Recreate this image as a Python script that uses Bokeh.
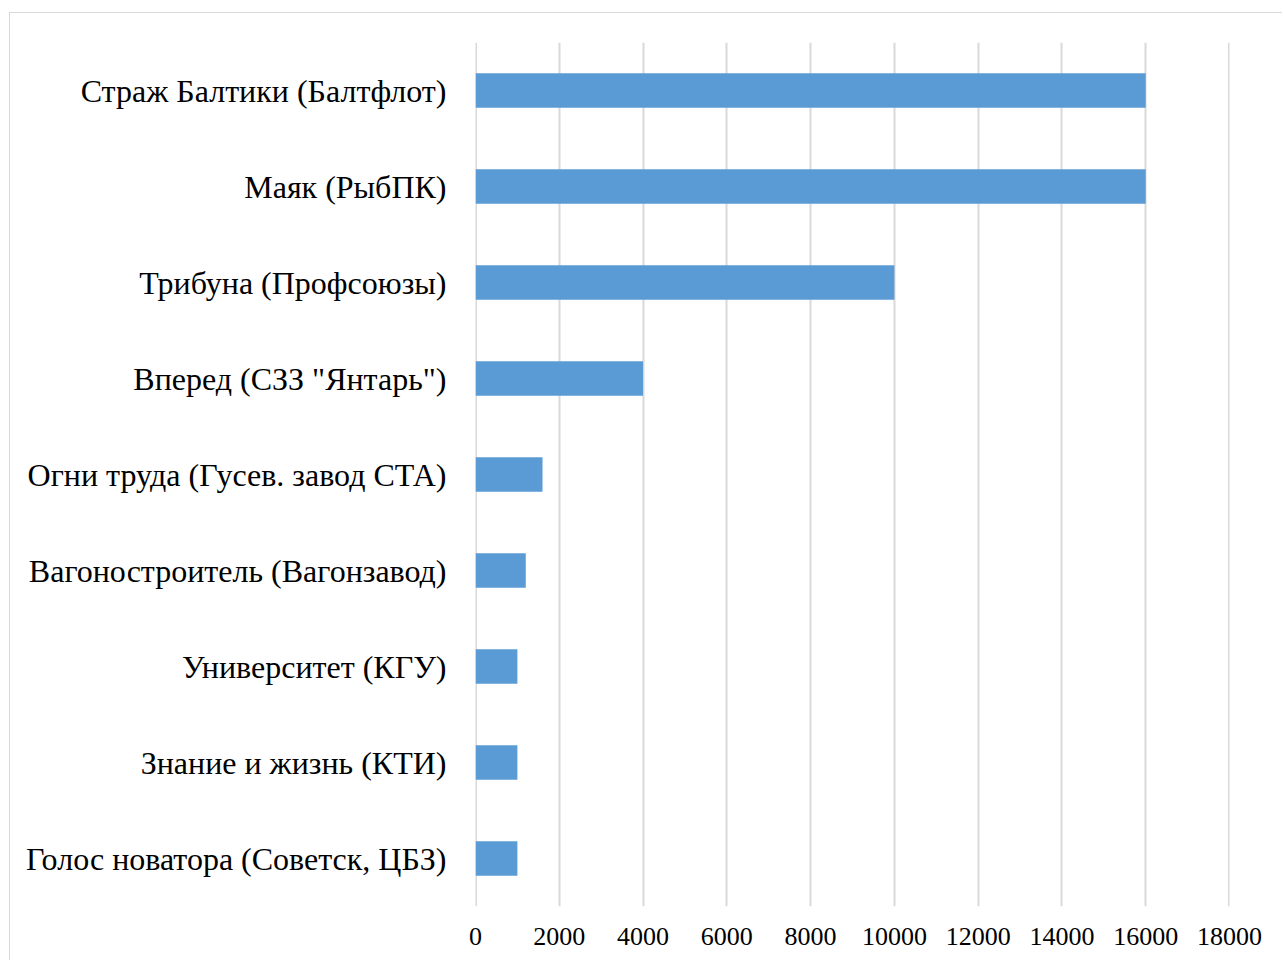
from bokeh.plotting import figure
from bokeh.models import FixedTicker, Span
from bokeh.embed import file_html
from bokeh.resources import INLINE

categories = [
    "Голос новатора (Советск, ЦБЗ)",
    "Знание и жизнь (КТИ)",
    "Университет (КГУ)",
    "Вагоностроитель (Вагонзавод)",
    "Огни труда (Гусев. завод СТА)",
    "Вперед (СЗЗ \"Янтарь\")",
    "Трибуна (Профсоюзы)",
    "Маяк (РыбПК)",
    "Страж Балтики (Балтфлот)",
]
values = [1000, 1000, 1000, 1200, 1600, 4000, 10000, 16000, 16000]
x_ticks = [0, 2000, 4000, 6000, 8000, 10000, 12000, 14000, 16000, 18000]

FONT = "Liberation Serif"

p = figure(
    y_range=categories, x_range=(0, 18000),
    width=1273, height=948,
    output_backend="svg", toolbar_location=None,
    min_border_left=465, min_border_right=54,
    min_border_top=29, min_border_bottom=55,
)
p.styles = {"border-left": "1px solid #D9D9D9", "border-top": "1px solid #D9D9D9",
            "margin-left": "9px", "margin-top": "12px"}

p.outline_line_color = None

p.xgrid.grid_line_color = "#D9D9D9"
p.xgrid.grid_line_width = 2
p.ygrid.grid_line_color = None
p.xaxis.ticker = FixedTicker(ticks=x_ticks)
for edge in (x_ticks[0], x_ticks[-1]):
    p.add_layout(Span(location=edge, dimension="height",
                      line_color="#D9D9D9", line_width=3, level="underlay"))

p.hbar(y=categories, right=values, left=0, height=0.36,
       fill_color="#5B9BD5", line_color=None)

for ax in (p.xaxis[0], p.yaxis[0]):
    ax.axis_line_color = None
    ax.major_tick_line_color = None
    ax.minor_tick_line_color = None
    ax.major_label_text_font = FONT
    ax.major_label_text_color = "#000000"

p.xaxis.major_label_text_font_size = "26px"
p.yaxis.major_label_text_font_size = "32px"
p.xaxis.major_label_standoff = 15
p.yaxis.major_label_standoff = 23
p.y_range.range_padding = 0
p.border_fill_color = "white"

open("out.html", "w").write(file_html(p, INLINE))
